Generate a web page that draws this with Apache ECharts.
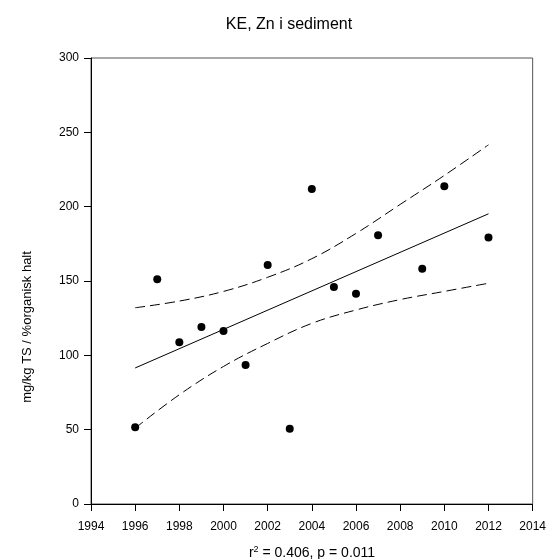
<!DOCTYPE html>
<html><head><meta charset="utf-8">
<script src="https://cdn.jsdelivr.net/npm/echarts@6/dist/echarts.min.js"></script>
<style>html,body{margin:0;padding:0;background:#fff}#c{width:549px;height:559px}</style>
</head><body><div id="c"></div>
<script>
const years = [1996,1997,1998,1999,2000,2001,2002,2003,2004,2005,2006,2007,2009,2010,2012];
const zn = [51.6,151.2,108.8,119.1,116.4,93.5,160.8,50.7,211.8,146,141.5,180.8,158.3,213.8,179.2];
const fitYears = [1996,2012];
const fitValues = [91.5,195.2];
const bandYears = [1996,1998,2000,2002,2004,2006,2008,2010,2012];
const upper = [132,136.5,143,152.5,165,182,201.5,221,241.6];
const lower = [51,73.5,92.5,108,121.5,130.5,137.5,143,148.5];
const title = 'KE, Zn i sediment';
const yName = 'mg/kg TS / %organisk halt';

const font = 'Liberation Sans, Arial, sans-serif';
const chart = echarts.init(document.getElementById('c'));
const pair = (xs, ys) => xs.map((x,i)=>[x,ys[i]]);
chart.setOption({
  animation:false,
  title:{text:title,left:284,top:12,textAlign:'center',textStyle:{fontFamily:font,fontSize:16,fontWeight:'normal',color:'#000'}},
  grid:{left:91,right:13,top:58,bottom:55,show:true,borderColor:'#555',borderWidth:1},
  xAxis:{type:'value',min:1994,max:2014,interval:2,
    axisLine:{show:true,lineStyle:{color:'#000',width:1}},
    axisTick:{show:true,length:7,lineStyle:{color:'#000'}},
    axisLabel:{fontFamily:font,fontSize:12,color:'#000',margin:17,formatter:v=>String(v)},
    splitLine:{show:false}},
  yAxis:{type:'value',min:0,max:300,interval:50,
    axisLine:{show:true,lineStyle:{color:'#000',width:1}},
    axisTick:{show:true,length:7,lineStyle:{color:'#000'}},
    axisLabel:{fontFamily:font,fontSize:12,color:'#000',margin:12},
    splitLine:{show:false}},
  graphic:[
    {type:'text',x:27,y:327,rotation:Math.PI/2,
     style:{text:yName,font:'13px '+font,fill:'#000',align:'center',verticalAlign:'middle'}},
    {type:'text',x:312,y:553,
     style:{text:'{n|r}{s|2}{n| = 0.406, p = 0.011}',align:'center',verticalAlign:'middle',
       rich:{n:{fontFamily:font,fontSize:14,color:'#000'},s:{fontFamily:font,fontSize:9,color:'#000',verticalAlign:'top',padding:[0,0,7,0]}}}}
  ],
  series:[
    {type:'line',data:pair(bandYears,upper),smooth:0.4,symbol:'none',lineStyle:{color:'#000',width:1,type:[10,5]}},
    {type:'line',data:pair(bandYears,lower),smooth:0.4,symbol:'none',lineStyle:{color:'#000',width:1,type:[10,5]}},
    {type:'line',data:pair(fitYears,fitValues),symbol:'none',lineStyle:{color:'#000',width:1}},
    {type:'scatter',data:pair(years,zn),symbol:'circle',symbolSize:8,itemStyle:{color:'#000',opacity:1}}
  ]
});
</script></body></html>
